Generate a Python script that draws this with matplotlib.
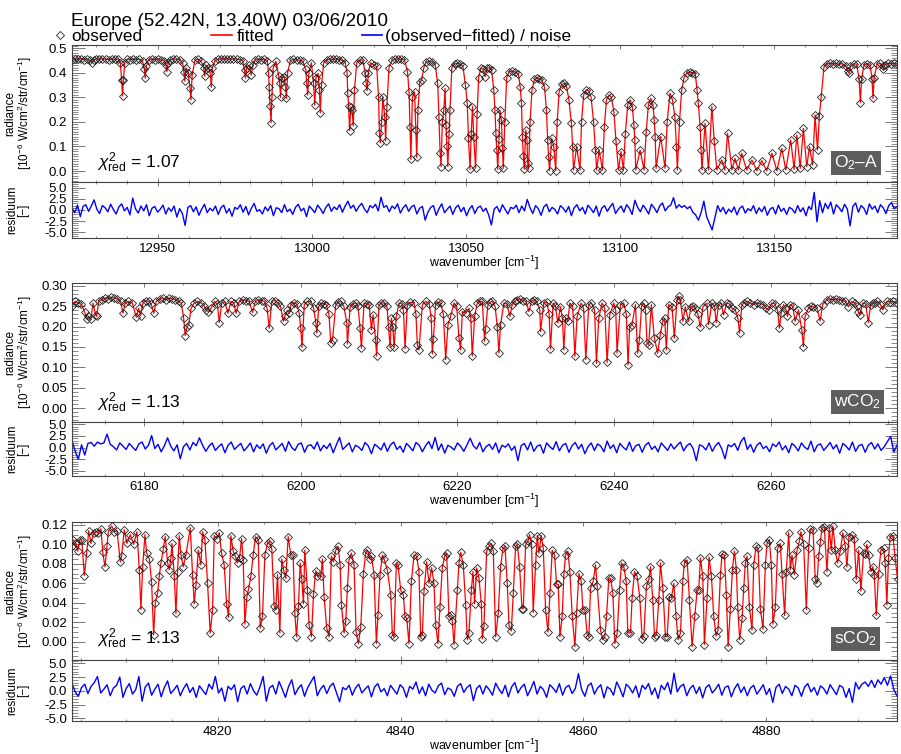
import numpy as np
import matplotlib
matplotlib.use("Agg")
import matplotlib.pyplot as plt
from matplotlib.lines import Line2D
from matplotlib.ticker import MultipleLocator, FormatStrFormatter

plt.rcParams["font.family"] = ["Liberation Sans", "DejaVu Sans"]
plt.rcParams["mathtext.fontset"] = "custom"
plt.rcParams["mathtext.rm"] = "Liberation Sans"
plt.rcParams["mathtext.it"] = "Liberation Sans:italic"
plt.rcParams["mathtext.bf"] = "Liberation Sans:bold"

TITLE = "Europe (52.42N, 13.40W) 03/06/2010"

# ---- O2-A band: observed radiance ----
wn_o2a = [
    12922.0, 12923.0, 12924.0, 12925.0, 12926.0, 12927.0, 12928.0, 12928.6, 12929.2, 12930.0,
    12931.0, 12932.0, 12933.0, 12934.0, 12935.0, 12936.0, 12937.0, 12937.8, 12938.2, 12938.5,
    12938.8, 12939.2, 12940.0, 12941.0, 12942.0, 12943.0, 12944.0, 12945.0, 12945.6, 12945.9,
    12946.2, 12947.0, 12948.0, 12949.0, 12950.0, 12951.0, 12952.0, 12952.6, 12952.9, 12953.3,
    12954.0, 12955.0, 12956.0, 12957.0, 12958.0, 12958.4, 12958.7, 12959.1, 12959.8, 12960.4,
    12960.7, 12961.1, 12962.0, 12963.0, 12964.0, 12964.8, 12965.2, 12965.6, 12966.4, 12967.0,
    12967.3, 12967.7, 12968.5, 12969.5, 12970.5, 12971.5, 12972.5, 12973.5, 12974.5, 12975.5,
    12976.5, 12977.5, 12978.1, 12978.4, 12978.8, 12979.6, 12980.3, 12980.8, 12981.5, 12982.5,
    12983.5, 12984.5, 12985.5, 12985.9, 12986.1, 12986.4, 12986.7, 12987.0, 12987.4, 12988.3,
    12989.2, 12989.5, 12989.8, 12990.2, 12991.0, 12991.4, 12991.7, 12992.1, 12993.0, 12994.0,
    12995.0, 12996.0, 12997.0, 12998.0, 12998.3, 12998.6, 12999.0, 12999.8, 13000.5, 13000.9,
    13001.3, 13002.0, 13002.4, 13002.7, 13003.1, 13003.8, 13004.8, 13005.8, 13006.8, 13007.8,
    13008.8, 13009.8, 13010.8, 13011.4, 13011.6, 13011.9, 13012.2, 13012.6, 13013.0, 13013.4,
    13013.8, 13014.5, 13015.5, 13016.5, 13017.3, 13017.6, 13017.9, 13018.3, 13019.0, 13020.0,
    13021.0, 13021.6, 13021.9, 13022.2, 13022.6, 13023.0, 13023.6, 13023.9, 13024.3, 13025.0,
    13026.0, 13027.0, 13028.0, 13029.0, 13030.0, 13031.0, 13031.5, 13031.8, 13032.1, 13032.6,
    13033.3, 13033.7, 13034.0, 13034.4, 13035.0, 13035.6, 13036.3, 13037.0, 13038.0, 13039.0,
    13040.0, 13040.8, 13041.2, 13041.6, 13041.9, 13042.3, 13042.8, 13043.2, 13043.5, 13043.8,
    13044.1, 13044.5, 13044.8, 13045.4, 13046.3, 13047.2, 13048.1, 13049.0, 13049.8, 13050.4,
    13050.8, 13051.3, 13051.7, 13052.1, 13052.5, 13053.1, 13053.6, 13054.1, 13054.8, 13055.5,
    13056.2, 13056.9, 13057.6, 13058.3, 13059.0, 13059.4, 13059.7, 13060.0, 13060.3, 13060.7,
    13061.0, 13061.5, 13061.8, 13062.1, 13062.6, 13063.2, 13064.0, 13065.0, 13066.0, 13067.0,
    13067.6, 13068.0, 13068.3, 13068.6, 13068.9, 13069.4, 13069.8, 13070.0, 13070.3, 13070.8,
    13071.4, 13072.2, 13073.0, 13073.8, 13074.6, 13075.5, 13076.1, 13076.5, 13076.8, 13077.1,
    13077.8, 13078.5, 13079.1, 13079.6, 13080.2, 13081.0, 13081.8, 13082.6, 13083.4, 13084.2,
    13084.6, 13084.9, 13085.9, 13087.0, 13087.5, 13088.2, 13089.0, 13089.8, 13090.6, 13091.4,
    13092.0, 13092.4, 13093.2, 13094.3, 13094.9, 13095.6, 13096.4, 13097.2, 13098.0, 13098.7,
    13099.5, 13100.3, 13101.1, 13101.7, 13102.5, 13103.3, 13104.0, 13104.5, 13104.8, 13105.1,
    13106.5, 13107.8, 13108.5, 13109.2, 13110.0, 13110.7, 13111.1, 13111.4, 13111.7, 13113.2,
    13114.6, 13115.3, 13116.2, 13117.0, 13117.8, 13118.3, 13118.6, 13119.3, 13120.0, 13120.8,
    13121.7, 13122.6, 13123.5, 13124.4, 13125.0, 13125.4, 13126.0, 13126.3, 13126.6, 13127.6,
    13128.7, 13129.8, 13130.6, 13131.4, 13133.0, 13134.0, 13134.9, 13136.3, 13137.3, 13138.4,
    13139.5, 13141.1, 13142.8, 13144.4, 13146.0, 13147.6, 13149.3, 13150.9, 13152.5, 13153.8,
    13155.4, 13156.5, 13157.4, 13158.5, 13159.5, 13160.6, 13161.5, 13162.5, 13163.3, 13164.1,
    13164.7, 13165.3, 13166.2, 13167.1, 13168.1, 13169.1, 13170.1, 13171.1, 13172.1, 13173.3,
    13174.0, 13174.4, 13174.8, 13175.8, 13176.8, 13177.6, 13178.0, 13178.4, 13179.2, 13180.2,
    13181.2, 13181.8, 13182.1, 13182.5, 13183.4, 13184.4, 13185.2, 13185.5, 13185.9, 13186.9,
    13187.9, 13188.9, 13189.9,
]
rad_o2a = [
    0.452, 0.456, 0.454, 0.457, 0.453, 0.455, 0.450, 0.440, 0.452, 0.456,
    0.454, 0.457, 0.455, 0.452, 0.456, 0.454, 0.455, 0.440, 0.370, 0.305,
    0.370, 0.440, 0.455, 0.452, 0.456, 0.453, 0.455, 0.448, 0.413, 0.377,
    0.425, 0.452, 0.455, 0.453, 0.456, 0.452, 0.448, 0.430, 0.404, 0.438,
    0.452, 0.456, 0.454, 0.452, 0.440, 0.404, 0.366, 0.420, 0.400, 0.339,
    0.289, 0.390, 0.450, 0.454, 0.448, 0.420, 0.386, 0.430, 0.420, 0.397,
    0.340, 0.420, 0.448, 0.454, 0.456, 0.455, 0.457, 0.454, 0.456, 0.455,
    0.452, 0.448, 0.410, 0.377, 0.420, 0.430, 0.390, 0.432, 0.450, 0.455,
    0.452, 0.455, 0.448, 0.400, 0.343, 0.264, 0.196, 0.300, 0.420, 0.446,
    0.386, 0.359, 0.299, 0.380, 0.381, 0.343, 0.295, 0.400, 0.450, 0.454,
    0.452, 0.450, 0.446, 0.413, 0.356, 0.309, 0.400, 0.440, 0.356, 0.268,
    0.380, 0.397, 0.329, 0.237, 0.350, 0.440, 0.452, 0.455, 0.454, 0.456,
    0.453, 0.450, 0.440, 0.397, 0.318, 0.264, 0.164, 0.260, 0.248, 0.183,
    0.330, 0.440, 0.452, 0.450, 0.397, 0.356, 0.327, 0.400, 0.440, 0.432,
    0.425, 0.302, 0.153, 0.115, 0.200, 0.300, 0.221, 0.122, 0.260, 0.420,
    0.450, 0.455, 0.456, 0.455, 0.452, 0.404, 0.322, 0.180, 0.047, 0.300,
    0.322, 0.167, 0.055, 0.250, 0.360, 0.370, 0.420, 0.442, 0.446, 0.444,
    0.432, 0.356, 0.221, 0.072, 0.018, 0.200, 0.248, 0.336, 0.187, 0.102,
    0.018, 0.150, 0.248, 0.420, 0.436, 0.437, 0.435, 0.425, 0.350, 0.275,
    0.133, 0.007, 0.150, 0.262, 0.140, 0.011, 0.230, 0.380, 0.418, 0.415,
    0.383, 0.418, 0.420, 0.410, 0.330, 0.248, 0.153, 0.085, 0.007, 0.130,
    0.248, 0.207, 0.092, 0.011, 0.200, 0.380, 0.404, 0.406, 0.402, 0.395,
    0.340, 0.275, 0.140, 0.061, 0.007, 0.167, 0.126, 0.031, 0.011, 0.200,
    0.330, 0.372, 0.378, 0.376, 0.370, 0.340, 0.248, 0.126, 0.058, 0.001,
    0.133, 0.099, 0.001, 0.200, 0.320, 0.352, 0.356, 0.345, 0.290, 0.194,
    0.099, 0.004, 0.099, 0.004, 0.200, 0.310, 0.330, 0.326, 0.300, 0.200,
    0.085, 0.004, 0.085, 0.004, 0.180, 0.290, 0.309, 0.300, 0.240, 0.120,
    0.004, 0.079, 0.004, 0.150, 0.270, 0.289, 0.260, 0.187, 0.126, 0.004,
    0.085, 0.004, 0.160, 0.270, 0.295, 0.270, 0.207, 0.140, 0.011, 0.140,
    0.011, 0.200, 0.316, 0.290, 0.221, 0.099, 0.004, 0.200, 0.329, 0.380,
    0.398, 0.402, 0.400, 0.396, 0.330, 0.275, 0.180, 0.085, 0.004, 0.194,
    0.004, 0.262, 0.120, 0.004, 0.045, 0.004, 0.153, 0.004, 0.051, 0.004,
    0.072, 0.004, 0.045, 0.001, 0.042, 0.001, 0.072, 0.001, 0.092, 0.004,
    0.126, 0.007, 0.146, 0.011, 0.173, 0.018, 0.099, 0.024, 0.228, 0.085,
    0.224, 0.302, 0.424, 0.436, 0.438, 0.435, 0.437, 0.434, 0.436, 0.425,
    0.405, 0.397, 0.425, 0.436, 0.434, 0.373, 0.278, 0.373, 0.432, 0.436,
    0.430, 0.373, 0.295, 0.380, 0.434, 0.437, 0.425, 0.413, 0.432, 0.438,
    0.436, 0.437, 0.435,
]
# (observed - fitted) / noise, evenly sampled across the window
res_o2a = [
    0.4, -0.6, 1.1, -1.5, 0.8, 1.2, -0.3, 0.9, 2.3, 0.2, -0.8, 1.0, 0.5, -0.4, 1.3, 0.1, -0.9, 0.7, 1.4, -0.2,
    0.6, -1.1, 2.7, 0.3, -0.7, 0.9, -0.2, 1.2, -1.3, 0.4, 0.8, -0.5, 0.2, 1.1, -0.9, 0.5, -0.3, 0.9, -1.6, 0.3,
    -0.8, -3.5, 0.6, 1.0, -0.4, 0.7, -1.2, 0.2, 1.3, -0.6, 0.4, -0.2, 0.9, -1.0, 0.5, 1.1, -0.7, 0.3, -1.4, 0.6,
    0.2, 1.2, -0.5, 0.8, -1.1, 0.4, 1.5, -0.3, 0.1, -0.9, 0.7, -0.2, 1.0, -1.3, 0.5, 0.3, -0.6, 1.2, -0.4, 0.2,
    -1.0, 0.6, 1.3, -0.2, 0.4, -1.5, 0.9, 0.2, -0.6, 1.1, 0.3, -0.8, 0.6, 1.4, -0.3, 0.7, 0.1, 1.2, -0.5, 0.9,
    2.0, 0.4, 1.1, -0.3, 0.8, 1.5, 0.2, -0.6, 1.0, 0.5, 1.3, -0.2, 2.9, 0.6, 1.0, -0.4, 0.9, 0.3, 1.4, -0.7,
    0.5, 1.2, -0.3, 0.7, 1.1, -0.9, 0.4, 0.8, -2.3, -0.5, 0.6, 1.0, -1.2, 0.3, 1.4, -0.6, 0.2, 0.9, -1.0, 0.5,
    1.1, -0.4, 0.6, -1.3, 0.2, 1.0, -0.8, 0.5, 0.9, -0.3, 0.4, -1.1, -3.4, 0.2, 0.8, -0.5, 1.2, 0.1, -0.9, 0.6,
    0.3, 1.1, -0.6, 0.9, -0.2, 2.4, 0.5, -0.8, 1.0, 0.3, -1.2, 0.7, 1.3, -0.4, 0.6, 0.1, -0.9, 1.0, 0.4, -0.5,
    0.8, -1.3, 0.5, 1.2, -0.2, 0.6, -0.9, 1.1, 0.3, -0.6, 0.9, -1.4, 0.4, 1.0, -0.3, 0.7, 1.5, -0.8, 0.2, 0.9,
    -0.5, 1.2, 0.4, -1.0, 2.2, 0.6, -0.4, 1.1, 0.2, -0.9, 1.3, 0.5, -0.6, 0.9, 1.6, -0.2, 0.7, 1.1, 2.8, 0.4,
    1.2, 0.6, 1.0, 0.3, 0.8, -0.5, -1.1, -2.3, -0.6, 2.0, -1.5, -3.0, -4.5, -1.8, 1.0, -0.4, 0.6, -0.9, 0.2, -0.5,
    0.7, -1.1, 0.4, 0.9, -0.7, 0.3, -0.2, 1.0, -0.8, 0.5, -0.4, 0.8, -1.2, 0.2, 0.6, -0.9, 1.1, -0.3, 0.4, -1.0,
    0.6, 0.2, -0.7, 1.0, -0.4, 0.5, -1.3, 0.8, 0.1, 4.0, -2.7, 2.1, -0.6, 1.5, 0.3, 1.8, -0.9, 1.2, 0.5, -0.4,
    1.3, 0.2, -3.6, 0.8, 1.6, -0.5, 1.0, 0.4, -1.0, 1.4, 0.2, 0.9, -0.6, 1.2, 0.5, -0.8, 1.0, 1.7, 0.3, 0.8,
]

# ---- weak CO2 band ----
wn_wco2 = [
    6170.8, 6171.2, 6171.6, 6172.0, 6172.4, 6172.7, 6172.9, 6173.2, 6173.5, 6173.8,
    6173.95, 6174.2, 6174.6, 6175.0, 6175.4, 6175.8, 6176.2, 6176.6, 6177.0, 6177.3,
    6177.6, 6178.0, 6178.5, 6179.0, 6179.3, 6179.55, 6179.85, 6180.2, 6180.6, 6180.9,
    6181.25, 6181.55, 6182.0, 6182.4, 6182.8, 6183.2, 6183.6, 6184.0, 6184.4, 6184.75,
    6185.05, 6185.25, 6185.5, 6185.7, 6186.0, 6186.4, 6186.8, 6187.3, 6187.7, 6187.95,
    6188.2, 6188.55, 6189.0, 6189.35, 6189.6, 6189.9, 6190.3, 6190.7, 6191.1, 6191.45,
    6191.75, 6192.15, 6192.6, 6193.0, 6193.4, 6193.85, 6194.2, 6194.6, 6195.0, 6195.35,
    6195.7, 6195.98, 6196.3, 6196.7, 6197.05, 6197.4, 6197.8, 6198.0, 6198.3, 6198.55,
    6198.75, 6199.15, 6199.5, 6199.8, 6200.0, 6200.15, 6200.45, 6200.85, 6201.3, 6201.65,
    6201.92, 6202.05, 6202.3, 6202.6, 6203.0, 6203.25, 6203.6, 6203.83, 6204.05, 6204.47,
    6204.8, 6205.11, 6205.5, 6205.87, 6205.96, 6206.3, 6206.7, 6207.02, 6207.3, 6207.57,
    6207.74, 6208.08, 6208.4, 6208.72, 6209.02, 6209.23, 6209.55, 6209.68, 6209.99, 6210.3,
    6210.63, 6211.0, 6211.2, 6211.4, 6211.57, 6211.75, 6211.91, 6212.2, 6212.54, 6212.9,
    6213.1, 6213.31, 6213.6, 6214.0, 6214.45, 6214.7, 6214.88, 6215.09, 6215.52, 6215.94,
    6216.4, 6216.65, 6216.79, 6216.92, 6217.21, 6217.5, 6217.85, 6218.2, 6218.49, 6218.79,
    6219.13, 6219.55, 6219.9, 6220.19, 6220.4, 6220.62, 6221.04, 6221.47, 6221.7, 6221.89,
    6222.19, 6222.53, 6222.85, 6223.17, 6223.46, 6223.59, 6223.89, 6224.15, 6224.44, 6224.8,
    6225.08, 6225.29, 6225.5, 6225.93, 6226.3, 6226.69, 6226.99, 6227.3, 6227.63, 6228.0,
    6228.4, 6228.75, 6229.11, 6229.45, 6229.75, 6230.1, 6230.51, 6230.6, 6231.02, 6231.4,
    6231.7, 6231.87, 6232.21, 6232.5, 6232.81, 6233.15, 6233.4, 6233.57, 6233.79, 6234.08,
    6234.34, 6234.7, 6234.98, 6235.27, 6235.78, 6236.1, 6236.38, 6236.76, 6237.1, 6237.5,
    6237.74, 6238.03, 6238.46, 6238.8, 6239.1, 6239.44, 6239.95, 6240.2, 6240.37, 6240.8,
    6241.22, 6241.55, 6241.77, 6241.98, 6242.28, 6242.71, 6243.0, 6243.22, 6243.5, 6243.77,
    6244.0, 6244.19, 6244.41, 6244.75, 6245.13, 6245.55, 6245.89, 6246.19, 6246.45, 6246.66,
    6246.95, 6247.38, 6247.68, 6248.02, 6248.23, 6248.44, 6248.78, 6249.08, 6249.5, 6249.8,
    6250.1, 6250.35, 6250.7, 6250.99, 6251.33, 6251.84, 6252.05, 6252.48, 6252.8, 6253.03,
    6253.33, 6253.65, 6253.96, 6254.39, 6254.7, 6255.03, 6255.45, 6255.8, 6256.0, 6256.3,
    6256.6, 6256.94, 6257.35, 6257.79, 6258.2, 6258.6, 6259.06, 6259.4, 6259.7, 6260.12,
    6260.5, 6260.85, 6261.1, 6261.31, 6261.61, 6261.9, 6262.12, 6262.46, 6262.8, 6263.1,
    6263.52, 6263.95, 6264.16, 6264.37, 6264.8, 6265.1, 6265.43, 6265.9, 6266.28, 6266.62,
    6267.13, 6267.5, 6267.9, 6268.3, 6268.7, 6269.1, 6269.5, 6269.89, 6270.3, 6270.7,
    6270.95, 6271.17, 6271.38, 6271.72, 6272.1, 6272.44, 6272.74, 6273.0, 6273.29, 6273.6,
    6273.95, 6274.27, 6274.78, 6275.2, 6275.6, 6276.05,
]
rad_wco2 = [
    0.250, 0.262, 0.258, 0.255, 0.237, 0.218, 0.225, 0.218, 0.258, 0.229,
    0.225, 0.262, 0.266, 0.270, 0.268, 0.272, 0.270, 0.268, 0.262, 0.233,
    0.258, 0.262, 0.258, 0.223, 0.245, 0.227, 0.258, 0.264, 0.262, 0.255,
    0.233, 0.262, 0.268, 0.270, 0.266, 0.270, 0.268, 0.266, 0.262, 0.258,
    0.221, 0.178, 0.200, 0.205, 0.245, 0.258, 0.262, 0.258, 0.250, 0.240,
    0.237, 0.245, 0.262, 0.255, 0.210, 0.258, 0.262, 0.233, 0.262, 0.258,
    0.233, 0.262, 0.266, 0.264, 0.262, 0.235, 0.262, 0.266, 0.264, 0.262,
    0.245, 0.196, 0.262, 0.264, 0.258, 0.250, 0.213, 0.227, 0.240, 0.233,
    0.254, 0.259, 0.255, 0.233, 0.196, 0.149, 0.254, 0.262, 0.262, 0.245,
    0.210, 0.184, 0.250, 0.258, 0.256, 0.254, 0.230, 0.160, 0.168, 0.254,
    0.260, 0.262, 0.250, 0.209, 0.157, 0.249, 0.256, 0.258, 0.250, 0.196,
    0.147, 0.258, 0.256, 0.254, 0.192, 0.229, 0.168, 0.128, 0.254, 0.258,
    0.258, 0.250, 0.200, 0.149, 0.221, 0.200, 0.150, 0.225, 0.258, 0.256,
    0.240, 0.146, 0.254, 0.260, 0.258, 0.230, 0.155, 0.143, 0.254, 0.262,
    0.256, 0.220, 0.133, 0.169, 0.254, 0.260, 0.258, 0.230, 0.119, 0.205,
    0.225, 0.258, 0.250, 0.172, 0.143, 0.237, 0.233, 0.245, 0.220, 0.128,
    0.225, 0.258, 0.262, 0.262, 0.164, 0.194, 0.254, 0.260, 0.262, 0.250,
    0.200, 0.135, 0.205, 0.258, 0.256, 0.225, 0.254, 0.262, 0.266, 0.268,
    0.264, 0.262, 0.237, 0.262, 0.266, 0.262, 0.241, 0.188, 0.258, 0.260,
    0.230, 0.145, 0.258, 0.250, 0.209, 0.249, 0.220, 0.143, 0.221, 0.213,
    0.258, 0.250, 0.127, 0.225, 0.258, 0.245, 0.119, 0.254, 0.258, 0.240,
    0.110, 0.221, 0.258, 0.245, 0.112, 0.229, 0.258, 0.240, 0.135, 0.254,
    0.258, 0.230, 0.106, 0.200, 0.205, 0.254, 0.135, 0.168, 0.250, 0.258,
    0.240, 0.160, 0.155, 0.254, 0.172, 0.135, 0.180, 0.213, 0.220, 0.143,
    0.254, 0.249, 0.172, 0.266, 0.274, 0.266, 0.213, 0.249, 0.213, 0.249,
    0.250, 0.245, 0.230, 0.199, 0.249, 0.258, 0.205, 0.258, 0.250, 0.210,
    0.254, 0.258, 0.229, 0.258, 0.256, 0.245, 0.241, 0.220, 0.184, 0.254,
    0.258, 0.262, 0.258, 0.254, 0.258, 0.256, 0.254, 0.245, 0.241, 0.258,
    0.256, 0.240, 0.196, 0.233, 0.254, 0.245, 0.225, 0.254, 0.250, 0.213,
    0.241, 0.192, 0.151, 0.225, 0.245, 0.250, 0.249, 0.245, 0.214, 0.254,
    0.266, 0.268, 0.266, 0.268, 0.266, 0.264, 0.262, 0.249, 0.262, 0.258,
    0.250, 0.237, 0.229, 0.258, 0.256, 0.210, 0.254, 0.258, 0.258, 0.262,
    0.256, 0.241, 0.262, 0.260, 0.262, 0.258,
]
res_wco2 = [
    1.5, -0.8, -2.5, 0.6, -1.6, 0.9, 1.1, 0.3, 1.2, 0.8, 1.0, 2.9, 0.7, 0.2, -0.5, 1.0, 0.3, -0.4, 0.9, 0.1,
    -0.6, 0.8, 1.2, -0.3, 0.5, 2.6, -0.2, 0.7, -0.9, 0.4, 2.1, 0.3, -0.7, 0.6, -2.4, 0.2, 0.9, -0.5, 1.1, 0.4,
    2.1, 0.5, -0.8, 0.3, 1.0, -0.6, 0.2, 0.8, -1.1, 0.5, 1.2, -0.4, 0.3, 0.9, -0.7, 0.1, 1.0, -0.9, 0.6, -0.2,
    0.8, -1.2, 0.4, 1.1, -0.5, 0.2, 0.9, -0.8, 1.3, 0.0, -0.6, 0.7, 1.0, -1.0, 0.4, 0.6, -0.3, 1.2, -0.7, 0.5,
    -0.2, 0.9, -1.1, 0.6, 2.2, -0.4, 0.3, 1.0, -0.9, 0.5, 0.1, -0.6, 1.1, 0.4, -1.3, 0.7, 0.2, -0.5, 1.0, -0.8,
    0.6, 1.2, -0.4, 0.3, -1.0, 0.9, 0.2, -0.7, 1.1, 0.5, -0.9, 0.4, 1.3, -0.2, 2.2, -0.6, 0.8, -1.2, 0.5, 0.1,
    -0.5, 1.0, 0.3, -0.8, 0.6, 2.0, 0.4, -0.3, 1.1, -0.9, 0.2, 0.7, -0.4, 1.0, -1.1, 0.5, 0.1, 0.8, -0.6, 0.3,
    -2.8, 0.4, 0.9, -0.5, 1.2, -0.8, 0.3, 0.6, -1.2, 1.0, 0.2, -0.4, 1.3, -0.7, 0.5, 0.9, -1.0, 0.4, 1.1, -0.3,
    0.7, -1.3, 0.2, 1.0, -0.6, 0.8, 0.3, -0.9, 1.4, -0.2, 0.6, -1.1, 0.9, 0.1, -0.5, 1.2, -0.8, 0.4, 0.7, -1.0,
    0.5, 1.1, -0.4, 0.3, -0.9, 1.0, 0.2, -0.6, 0.8, -0.3, 0.5, 1.2, -0.7, 0.4, 0.9, -0.2, -2.8, 0.6, 0.3, -0.5,
    1.0, -0.8, 0.4, 1.1, -0.3, -2.4, 0.6, 0.2, 0.9, -0.6, 1.3, 2.2, -0.4, 0.7, -1.0, 0.5, 1.1, -0.2, 0.3, -0.9,
    0.8, 0.2, 1.2, -0.5, 0.4, -1.1, 0.9, 0.3, -0.7, 1.0, 0.1, -0.4, 1.4, -0.9, 0.5, 0.8, -0.6, 0.2, 1.1, -0.3,
    0.6, -1.2, 0.9, 0.3, -0.5, 1.2, -0.8, 0.4, 0.7, -1.0, 0.5, 1.1, -0.3, 0.8, -0.6, 0.2, 1.3, 2.4, -0.9, 0.5,
]

# ---- strong CO2 band ----
wn_sco2 = [
    4804.04, 4804.11, 4804.48, 4804.66, 4804.92, 4805.10, 4805.39, 4805.65, 4805.87, 4806.12,
    4806.41, 4806.67, 4806.92, 4807.21, 4807.40, 4807.65, 4807.87, 4808.01, 4808.38, 4808.67,
    4808.96, 4809.33, 4809.47, 4809.76, 4810.05, 4810.42, 4810.78, 4811.15, 4811.40, 4811.58,
    4811.77, 4812.02, 4812.20, 4812.50, 4812.75, 4812.97, 4813.15, 4813.41, 4813.59, 4813.77,
    4814.03, 4814.24, 4814.50, 4814.68, 4814.86, 4814.97, 4815.23, 4815.41, 4815.59, 4815.77,
    4815.96, 4816.21, 4816.50, 4816.98, 4817.23, 4817.41, 4817.60, 4817.85, 4818.14, 4818.32,
    4818.58, 4818.87, 4819.16, 4819.42, 4819.60, 4819.89, 4820.15, 4820.40, 4820.69, 4820.95,
    4821.17, 4821.42, 4821.68, 4821.89, 4822.15, 4822.37, 4822.59, 4822.77, 4822.95, 4823.17,
    4823.35, 4823.61, 4823.86, 4824.12, 4824.41, 4824.63, 4824.88, 4825.14, 4825.43, 4825.65,
    4825.90, 4826.16, 4826.34, 4826.52, 4826.78, 4826.99, 4827.18, 4827.43, 4827.69, 4827.98,
    4828.23, 4828.42, 4828.60, 4828.82, 4829.00, 4829.18, 4829.36, 4829.51, 4829.80, 4829.98,
    4830.24, 4830.46, 4830.71, 4830.89, 4831.26, 4831.44, 4831.62, 4831.91, 4832.17, 4832.42,
    4832.64, 4832.90, 4833.15, 4833.37, 4833.52, 4833.81, 4833.99, 4834.17, 4834.35, 4834.61,
    4834.90, 4835.12, 4835.37, 4835.63, 4835.92, 4836.17, 4836.36, 4836.65, 4836.79, 4837.09,
    4837.34, 4837.52, 4837.74, 4838.00, 4838.18, 4838.54, 4838.91, 4839.09, 4839.27, 4839.53,
    4839.71, 4840.00, 4840.29, 4840.47, 4840.66, 4840.91, 4841.17, 4841.46, 4841.75, 4842.00,
    4842.19, 4842.37, 4842.55, 4842.84, 4843.10, 4843.39, 4843.64, 4843.83, 4844.08, 4844.30,
    4844.55, 4844.81, 4845.03, 4845.28,
    4845.47, 4845.65, 4845.83, 4846.20, 4846.38, 4846.56, 4846.85, 4847.11, 4847.29, 4847.47,
    4847.73, 4847.91, 4848.09, 4848.31, 4848.57, 4848.82, 4848.93, 4849.11, 4849.40, 4849.66,
    4849.91, 4850.13, 4850.39, 4850.68, 4850.93, 4851.19, 4851.41, 4851.66, 4851.85, 4852.10,
    4852.32, 4852.57, 4852.76, 4853.01, 4853.27, 4853.41, 4853.67, 4853.92, 4854.10, 4854.32,
    4854.50, 4854.76, 4854.94, 4855.12, 4855.38, 4855.60, 4855.85, 4856.11, 4856.33, 4856.58,
    4856.84, 4857.05, 4857.24, 4857.42, 4857.67, 4857.86, 4858.04, 4858.29, 4858.51, 4858.77,
    4859.06, 4859.24, 4859.50, 4859.75, 4859.93, 4860.15, 4860.41, 4860.59, 4860.77, 4861.06,
    4861.32, 4861.50, 4861.86, 4862.12, 4862.34, 4862.52, 4862.77, 4862.96, 4863.21, 4863.43,
    4863.69, 4863.94, 4864.16, 4864.41, 4864.67, 4864.85, 4865.14, 4865.32, 4865.58, 4865.87,
    4866.16, 4866.42, 4866.60, 4866.89, 4867.15, 4867.33, 4867.58, 4867.77, 4867.98, 4868.24,
    4868.42, 4868.68, 4868.97, 4869.15, 4869.40, 4869.62, 4869.88, 4870.13, 4870.35, 4870.61,
    4870.86, 4871.04, 4871.34, 4871.59, 4871.88, 4872.17, 4872.43, 4872.61, 4872.79, 4873.05,
    4873.23, 4873.52, 4873.74, 4874.00, 4874.25, 4874.51, 4874.72, 4874.98, 4875.16, 4875.42,
    4875.63, 4875.82, 4876.07, 4876.29, 4876.51, 4876.73, 4876.87, 4877.09, 4877.35, 4877.53,
    4877.71, 4877.89, 4878.15, 4878.44, 4878.62, 4878.88, 4879.10, 4879.35, 4879.64, 4879.90,
    4880.08, 4880.33, 4880.55, 4880.73, 4880.99, 4881.24, 4881.53, 4881.72, 4882.01, 4882.19,
    4882.45, 4882.63, 4882.81, 4883.07, 4883.36, 4883.61, 4883.79, 4884.09, 4884.38, 4884.63,
    4884.81, 4885.11, 4885.36, 4885.54, 4885.73, 4885.91, 4886.09, 4886.34, 4886.64, 4886.89,
    4887.11, 4887.29, 4887.55, 4887.80, 4888.09, 4888.38, 4888.64, 4888.82, 4889.04, 4889.37,
    4889.62, 4889.84, 4890.10, 4890.35, 4890.64, 4890.83, 4891.01, 4891.19, 4891.45, 4891.66,
    4891.81, 4892.03, 4892.28, 4892.54, 4892.83, 4893.01, 4893.19, 4893.37, 4893.56, 4893.85,
    4894.10, 4894.36,
]
rad_sco2 = [
    0.098, 0.105, 0.101, 0.093, 0.105, 0.105, 0.068, 0.091, 0.114, 0.101,
    0.112, 0.113, 0.112, 0.116, 0.092, 0.077, 0.098, 0.113, 0.119, 0.113,
    0.114, 0.082, 0.088, 0.115, 0.101, 0.110, 0.100, 0.113, 0.074, 0.033,
    0.077, 0.110, 0.091, 0.085, 0.061, 0.007, 0.040, 0.050, 0.067, 0.081,
    0.095, 0.108, 0.081, 0.074, 0.086, 0.101, 0.068, 0.029, 0.072, 0.109,
    0.089, 0.077, 0.089, 0.117, 0.069, 0.039, 0.058, 0.094, 0.079, 0.113,
    0.105, 0.060, 0.009, 0.033, 0.109, 0.106, 0.112, 0.091, 0.079, 0.039,
    0.025, 0.109, 0.093, 0.088, 0.081, 0.086, 0.106, 0.084, 0.018, 0.046,
    0.054, 0.067, 0.089, 0.108, 0.105, 0.014, 0.026, 0.089, 0.101, 0.103,
    0.095, 0.037, 0.033, 0.069, 0.009, 0.085, 0.074, 0.065, 0.108, 0.089,
    0.089, 0.029, 0.005, 0.037, 0.081, 0.064, 0.039, 0.094, 0.053, 0.017,
    0.005, 0.049, 0.073, 0.068, 0.067, 0.085, 0.046, 0.014, 0.005, 0.088,
    0.082, 0.094, 0.098, 0.079, 0.038, 0.009, 0.021, 0.055, 0.084, 0.091,
    0.079, 0.010, -0.002, 0.015, 0.070, 0.091, 0.094, 0.085, 0.088, 0.069,
    -0.002, 0.027, 0.069, 0.089, 0.085, 0.074, 0.048, 0.007, 0.005, 0.081,
    0.079, 0.053, 0.048, 0.026, 0.024, -0.002, 0.062, 0.089, 0.088, 0.072,
    0.005, 0.007, 0.052, 0.082, 0.060, 0.076, 0.060, 0.017, -0.002, 0.036,
    0.076, 0.088, 0.091, 0.026,
    0.027, 0.021, -0.003, 0.053, 0.081, 0.092, 0.079, 0.038, 0.002, 0.009,
    0.053, 0.072, 0.039, 0.076, 0.065, 0.039, 0.003, 0.016, 0.093, 0.098,
    0.101, 0.093, 0.005, 0.030, 0.077, 0.096, 0.098, 0.060, 0.017, 0.011,
    0.050, 0.098, 0.100, 0.077, 0.034, 0.034, 0.100, 0.103, 0.110, 0.100,
    0.030, 0.079, 0.109, 0.091, 0.109, 0.096, 0.033, 0.010, 0.050, 0.094,
    0.089, 0.059, 0.059, 0.005, 0.026, 0.070, 0.089, 0.093, 0.072, 0.026,
    -0.005, 0.029, 0.070, 0.062, 0.033, 0.033, 0.007, 0.005, 0.055, 0.062,
    0.079, 0.057, 0.012, 0.002, 0.005, 0.026, 0.065, 0.065, 0.050, -0.002,
    0.009, 0.053, 0.081, 0.077, 0.062, 0.009, 0.009, 0.045, 0.072, 0.067,
    0.045, 0.003, 0.006, 0.057, 0.064, 0.077, 0.043, 0.005, 0.007, 0.043,
    0.081, 0.055, 0.005, 0.005, 0.046, 0.045, 0.060, 0.026, 0.002, 0.009,
    0.062, 0.081, 0.084, 0.043, -0.005, 0.026, 0.053, 0.053, 0.086, 0.067,
    -0.003, 0.045, 0.087, 0.067, 0.026, 0.006, 0.012, 0.069, 0.090, 0.089,
    0.048, -0.005, 0.034, 0.074, 0.093, 0.074, 0.036, 0.002, 0.024, 0.055,
    0.081, 0.088, 0.036, 0.012, 0.079, 0.098, 0.096, 0.034, 0.013, 0.079,
    0.101, 0.105, 0.079, 0.018, 0.036, 0.096, 0.101, 0.070, 0.027, 0.072,
    0.112, 0.074, 0.089, 0.069, 0.094, 0.103, 0.113, 0.100, 0.033, 0.096,
    0.116, 0.115, 0.064, 0.060, 0.088, 0.102, 0.117, 0.118, 0.072, 0.117,
    0.094, 0.119, 0.094, 0.081, 0.093, 0.112, 0.098, 0.077, 0.108, 0.110,
    0.106, 0.064, 0.094, 0.052, 0.091, 0.090, 0.100, 0.089, 0.072, 0.077,
    0.069, 0.027, 0.070, 0.094, 0.096, 0.081, 0.038, 0.086, 0.108, 0.109,
    0.086, 0.064,
]
res_sco2 = [
    1.3, -0.2, -1.0, 0.6, 1.2, -0.5, 0.8, 1.5, 2.6, -0.4, 0.3, 1.1, -0.9, 0.5, 1.0, 2.5, -1.2, 0.4, 1.3, -0.6,
    0.2, 2.6, -1.9, 0.7, 1.4, -0.8, 0.3, 1.2, -1.1, 0.6, 1.8, -0.5, 0.2, 1.0, -0.9, 0.4, 1.3, -0.3, 0.6, -1.2,
    0.9, 0.1, -0.7, 1.2, 0.3, 2.6, -0.4, 0.5, -1.9, 0.8, 0.2, 1.1, -2.0, 0.4, 0.9, -0.6, 1.3, 0.0, -0.8, 0.7,
    2.6, -1.9, 0.5, 1.0, -0.6, 1.7, 0.3, -1.2, 0.8, 2.0, -0.7, 0.4, 1.1, -1.0, 0.6, 1.6, 2.6, -0.9, 0.3, 1.0,
    -0.5, 0.8, 1.4, -0.3, -2.0, 0.6, 0.2, 1.0, -0.8, 0.5, 1.2, -0.4, 0.3, 0.9, -1.1, 0.7, 1.3, -0.2, 0.4, -0.9,
    1.0, 0.2, -0.6, 1.1, 0.5, -1.2, 0.8, 0.3, 1.6, -0.5, 0.7, -0.9, 1.2, 0.1, -0.4, 0.9, 1.4, -0.7, 0.5, 0.2,
    -1.0, 0.8, 1.3, -0.3, 0.6, 1.1, -1.8, 0.4, 1.0, -0.6, 0.9, 0.2, -0.8, 1.4, 0.3, -0.5, 1.0, -1.1, 0.7, 1.5,
    -0.4, 0.6, 1.2, -0.9, 0.3, 1.7, -0.6, 0.8, 0.2, -1.2, 1.1, 0.5, -0.3, 1.3, -0.8, 0.6, 1.0, -0.5, 0.4, 3.1,
    0.2, -1.0, 0.9, 1.4, -0.6, 0.5, 1.1, -1.3, 0.7, 0.3, -0.8, 1.6, 0.4, -1.1, 1.2, 0.6, -0.4, 0.9, -1.2, 1.0,
    0.3, 1.3, -0.7, 0.5, -1.4, 1.0, 0.2, 1.5, -0.6, 3.2, -0.2, 0.8, 1.2, -0.9, 0.4, 1.0, -0.5, 0.7, -1.3, 0.6,
    1.1, -0.4, 0.3, 1.2, -0.8, 0.6, 0.9, -1.1, 0.4, 1.3, -0.3, 0.7, -0.9, 0.5, 1.0, -0.6, 0.2, 1.1, -0.7, 0.4,
    -2.1, 0.6, 1.2, -0.5, 0.8, 0.3, -0.9, 1.0, 0.5, -1.0, 0.7, 1.3, -0.2, 0.6, -0.8, 0.9, 0.4, -0.6, 1.1, 0.2,
    -0.7, 1.0, 0.6, -1.2, 0.4, -2.1, 1.5, 0.3, 1.2, 1.6, 0.8, 1.9, 0.6, 2.0, 1.2, 2.4, 1.0, 2.7, 0.2, -0.9,
]

CHI2 = ["1.07", "1.13", "1.13"]
BAND_LABELS = [r"O$_2$–A", r"wCO$_2$", r"sCO$_2$"]

FIG_W, FIG_H = 901, 754

# per-panel layout, in pixels of the 901x754 canvas: (left, top, right, bottom)
PANELS = [
    dict(wn=wn_o2a, rad=rad_o2a, res=res_o2a,
         rad_box=(72, 45, 897, 182), res_box=(72, 182, 897, 238),
         xlim=(12922.1, 13189.9), ylim=(-0.0447, 0.5122), res_ylim=(-6.35, 6.35),
         xmaj=50, xmin=10, ymaj=0.1, ymin=0.01, yfmt="%.1f",
         chi_y=0.10, tag_xy=(0.950, 0.139)),
    dict(wn=wn_wco2, rad=rad_wco2, res=res_wco2,
         rad_box=(72, 283, 897, 422), res_box=(72, 422, 897, 476),
         xlim=(6170.8, 6276.1), ylim=(-0.034, 0.307), res_ylim=(-6.1, 5.5),
         xmaj=20, xmin=5, ymaj=0.05, ymin=0.01, yfmt="%.2f",
         chi_y=0.10, tag_xy=(0.952, 0.144)),
    dict(wn=wn_sco2, rad=rad_sco2, res=res_sco2,
         rad_box=(72, 522, 897, 660), res_box=(72, 660, 897, 721),
         xlim=(4804.04, 4894.3), ylim=(-0.0188, 0.123), res_ylim=(-5.5, 5.6),
         xmaj=20, xmin=5, ymaj=0.02, ymin=0.005, yfmt="%.2f",
         chi_y=0.116, tag_xy=(0.950, 0.152)),
]

MARKER = dict(ls="none", marker="D", ms=4.0, mfc="none", mec="#222222", mew=0.6)


def px_rect(box):
    left, top, right, bottom = box
    return [left / FIG_W, 1 - bottom / FIG_H, (right - left) / FIG_W, (bottom - top) / FIG_H]


def style_ticks(ax):
    ax.tick_params(which="both", direction="in", top=True, right=True,
                   labelsize=9.5, color="#777777", labelcolor="black")
    ax.tick_params(axis="y", which="major", length=9, width=0.7)
    ax.tick_params(axis="y", which="minor", length=4.5, width=0.6)
    ax.tick_params(axis="x", which="major", length=3, width=0.7)
    ax.tick_params(axis="x", which="minor", length=1.5, width=0.6)
    for sp in ax.spines.values():
        sp.set_color("#444444")
        sp.set_linewidth(0.8)


def main():
    fig = plt.figure(figsize=(FIG_W / 100, FIG_H / 100), dpi=100)

    for i, p in enumerate(PANELS):
        ax = fig.add_axes(px_rect(p["rad_box"]))
        axr = fig.add_axes(px_rect(p["res_box"]), sharex=ax)

        wn = np.asarray(p["wn"])
        rad = np.asarray(p["rad"])
        ax.plot(wn, rad, color="red", lw=0.9, zorder=2)
        ax.plot(wn, rad, zorder=3, **MARKER)

        res = np.asarray(p["res"])
        wn_res = np.linspace(p["xlim"][0], p["xlim"][1], len(res))
        axr.plot(wn_res, res, color="#0000ff", lw=1.0)

        ax.set_xlim(p["xlim"])
        ax.set_ylim(p["ylim"])
        axr.set_ylim(p["res_ylim"])

        ax.xaxis.set_major_locator(MultipleLocator(p["xmaj"]))
        ax.xaxis.set_minor_locator(MultipleLocator(p["xmin"]))
        ax.yaxis.set_major_locator(MultipleLocator(p["ymaj"]))
        ax.yaxis.set_minor_locator(MultipleLocator(p["ymin"]))
        ax.yaxis.set_major_formatter(FormatStrFormatter(p["yfmt"]))
        axr.yaxis.set_major_locator(MultipleLocator(2.5))
        axr.yaxis.set_minor_locator(MultipleLocator(0.5))
        axr.yaxis.set_major_formatter(FormatStrFormatter("%.1f"))
        axr.xaxis.set_major_formatter(FormatStrFormatter("%d"))
        ax.tick_params(labelbottom=False)
        style_ticks(ax)
        style_ticks(axr)

        ax.set_ylabel("radiance\n[10$^{-6}$ W/cm$^{2}$/str/cm$^{-1}$]",
                      fontsize=8.5, linespacing=0.95)
        ax.yaxis.set_label_coords(-0.046, 0.5)
        axr.set_ylabel("residuum\n[−]", fontsize=8.5, linespacing=0.9)
        axr.yaxis.set_label_coords(-0.052, 0.5)
        axr.set_xlabel("wavenumber [cm$^{-1}$]", fontsize=9, labelpad=-1)

        ax.text(0.030, p["chi_y"], r"$\chi^{2}_{\mathrm{red}}$ = " + CHI2[i],
                transform=ax.transAxes, fontsize=12.5, va="baseline", ha="left")
        ax.text(p["tag_xy"][0], p["tag_xy"][1], BAND_LABELS[i], transform=ax.transAxes,
                fontsize=12.5, color="white", ha="center", va="center",
                bbox=dict(boxstyle="square,pad=0.16", fc="#5e5e5e", ec="none"))

    # title and hand-placed legend row
    fig.text(71 / FIG_W, 1 - 26 / FIG_H, TITLE, fontsize=13.7, va="baseline")
    ly = 1 - 35 / FIG_H
    lb = 1 - 41 / FIG_H
    fig.add_artist(Line2D([60 / FIG_W], [ly], transform=fig.transFigure, **MARKER))
    fig.text(71 / FIG_W, lb, "observed", fontsize=12.4, va="baseline")
    fig.add_artist(Line2D([211 / FIG_W, 232 / FIG_W], [ly, ly], transform=fig.transFigure,
                          color="red", lw=1.2))
    fig.text(237 / FIG_W, lb, "fitted", fontsize=12.4, va="baseline")
    fig.add_artist(Line2D([362 / FIG_W, 382 / FIG_W], [ly, ly], transform=fig.transFigure,
                          color="#0000ff", lw=1.2))
    fig.text(385 / FIG_W, lb, "(observed−fitted) / noise", fontsize=12.4, va="baseline")

    fig.savefig("out.png", dpi=100, facecolor="white")
    plt.close(fig)


if __name__ == "__main__":
    main()
